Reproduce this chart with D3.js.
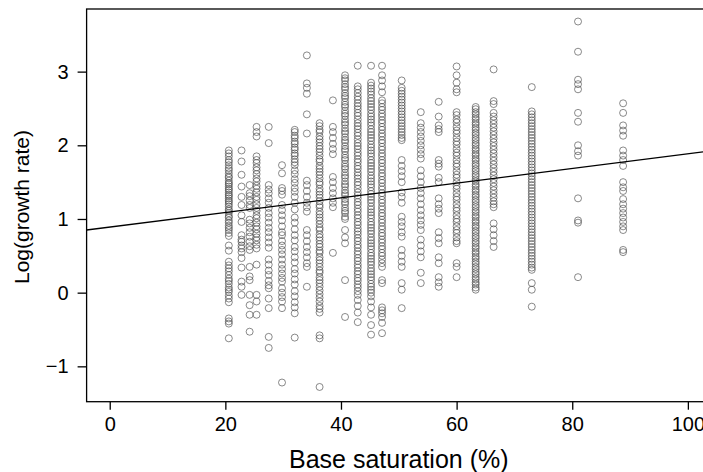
<!DOCTYPE html>
<html>
<head>
<meta charset="utf-8">
<script src="https://cdn.jsdelivr.net/npm/d3@7/dist/d3.min.js"></script>
<style>
  html, body { margin: 0; padding: 0; background: #fff; }
  svg { display: block; }
  text { font-family: "Liberation Sans", Arial, Helvetica, sans-serif; fill: #000; }
</style>
</head>
<body>
<svg id="chart" width="703" height="472"></svg>
<script>
// ---- data ----
const xTicks = [0, 20, 40, 60, 80, 100];
const yTicks = [-1, 0, 1, 2, 3];
const xLabel = "Base saturation (%)";
const yLabel = "Log(growth rate)";
const fitIntercept = 0.89;
const fitSlope = 0.00995;

// base saturation value of each column of points
const columnX = [20.6, 22.8, 24.2, 25.4, 27.5, 29.8, 32.0, 34.1, 36.3, 38.6, 40.7, 42.9,
                 45.2, 47.1, 50.5, 53.8, 56.9, 60.0, 63.3, 66.4, 73.0, 81.0, 88.8];

// log(growth rate) values in each column
const col01 = [1.93,1.89,1.85,1.80,1.77,1.73,1.69,1.66,1.62,1.58,1.56,1.52,1.49,1.47,1.44,1.41,1.39,1.36,1.33,1.31,1.28,1.25,1.23,1.20,1.17,1.13,1.11,1.08,1.04,1.02,0.98,0.95,0.91,0.88,0.85,0.81,0.77,0.64,0.57,0.42,0.37,0.33,0.29,0.24,0.19,0.16,0.12,0.07,0.04,0.01,-0.04,-0.08,-0.13,-0.35,-0.39,-0.42,-0.62];
const col02 = [1.93,1.78,1.60,1.44,1.30,1.19,1.05,0.96,0.78,0.72,0.69,0.64,0.60,0.55,0.47,0.34,0.15,0.08,-0.03];
const col03 = [1.46,1.35,1.31,1.25,1.19,1.15,0.99,0.94,0.88,0.82,0.76,0.69,0.63,0.58,0.35,0.22,0.17,-0.03,-0.17,-0.30,-0.53];
const col04 = [2.25,2.18,2.12,1.85,1.80,1.76,1.70,1.66,1.61,1.55,1.51,1.45,1.41,1.36,1.30,1.26,1.20,1.15,1.11,1.05,1.01,0.95,0.90,0.86,0.80,0.75,0.71,0.65,0.60,0.38,-0.03,-0.12,-0.30];
const col05 = [2.25,2.03,1.46,1.40,1.35,1.28,1.22,1.15,1.08,1.02,0.95,0.88,0.82,0.75,0.68,0.61,0.45,0.38,0.30,0.24,0.16,0.10,0.06,-0.08,-0.21,-0.60,-0.75];
const col06 = [1.73,1.62,1.42,1.38,1.33,1.19,1.12,1.05,0.98,0.90,0.82,0.78,0.70,0.64,0.58,0.52,0.45,0.38,0.32,0.26,0.20,0.15,0.06,0.00,-0.06,-0.12,-0.21,-1.22];
const col07 = [2.21,2.18,2.13,2.10,2.05,2.02,1.97,1.94,1.89,1.86,1.81,1.77,1.73,1.66,1.61,1.54,1.49,1.42,1.37,1.30,1.22,1.13,1.02,0.95,0.86,0.78,0.71,0.62,0.56,0.48,0.41,0.32,0.26,0.18,0.11,0.02,-0.05,-0.13,-0.20,-0.28,-0.61];
const col08 = [3.22,2.84,2.78,2.70,2.42,2.16,1.52,1.46,1.38,1.30,1.22,1.16,1.10,0.85,0.78,0.70,0.62,0.55,0.48,0.40,0.35,0.08];
const col09 = [2.30,2.26,2.21,2.18,2.12,2.08,2.04,1.99,1.95,1.91,1.86,1.81,1.78,1.72,1.68,1.64,1.60,1.55,1.50,1.47,1.41,1.37,1.33,1.29,1.24,1.19,1.16,1.10,1.06,1.02,0.98,0.93,0.88,0.85,0.79,0.75,0.71,0.66,0.62,0.57,0.54,0.48,0.44,0.40,0.35,0.30,0.27,0.21,0.17,0.13,0.08,0.03,-0.02,-0.07,-0.12,-0.18,-0.22,-0.27,-0.58,-0.62,-1.28];
const col10 = [2.61,2.25,2.18,2.10,2.02,1.95,1.88,1.57,1.50,1.42,1.35,1.28,1.22,1.16,0.54];
const col11 = [2.95,2.91,2.88,2.83,2.79,2.76,2.71,2.67,2.64,2.59,2.55,2.52,2.47,2.43,2.40,2.35,2.31,2.28,2.23,2.19,2.16,2.11,2.07,2.04,1.99,1.95,1.92,1.87,1.83,1.80,1.75,1.71,1.68,1.63,1.59,1.56,1.51,1.47,1.44,1.39,1.35,1.32,1.27,1.23,1.20,1.15,1.11,1.08,1.03,1.00,0.85,0.75,0.67,0.17,-0.33];
const col12 = [3.08,2.80,2.76,2.71,2.66,2.62,2.57,2.53,2.49,2.44,2.40,2.35,2.30,2.26,2.22,2.17,2.13,2.08,2.03,1.99,1.95,1.90,1.86,1.81,1.77,1.72,1.68,1.63,1.59,1.55,1.50,1.46,1.41,1.36,1.32,1.28,1.23,1.19,1.14,1.10,1.05,1.01,0.96,0.92,0.87,0.83,0.79,0.74,0.70,0.65,0.61,0.56,0.52,0.47,0.43,0.38,0.34,0.29,0.25,0.20,0.16,0.11,0.07,0.02,-0.03,-0.10,-0.18,-0.27,-0.40];
const col13 = [3.08,2.85,2.81,2.77,2.73,2.69,2.64,2.60,2.56,2.52,2.48,2.43,2.39,2.35,2.31,2.27,2.22,2.18,2.14,2.10,2.06,2.01,1.97,1.93,1.89,1.85,1.80,1.76,1.72,1.68,1.64,1.59,1.55,1.51,1.47,1.43,1.38,1.34,1.30,1.26,1.22,1.17,1.13,1.09,1.05,1.01,0.96,0.92,0.88,0.84,0.80,0.75,0.71,0.67,0.63,0.59,0.54,0.50,0.46,0.42,0.38,0.33,0.29,0.25,0.21,0.17,0.12,0.08,0.04,0.00,-0.05,-0.12,-0.20,-0.30,-0.44,-0.57];
const col14 = [3.08,2.95,2.88,2.80,2.72,2.61,2.57,2.52,2.48,2.43,2.39,2.34,2.30,2.25,2.21,2.16,2.12,2.07,2.03,1.98,1.94,1.89,1.85,1.80,1.76,1.71,1.67,1.62,1.58,1.53,1.49,1.44,1.40,1.35,1.31,1.26,1.22,1.17,1.13,1.08,1.04,0.99,0.95,0.90,0.86,0.81,0.77,0.72,0.68,0.63,0.59,0.54,0.50,0.45,0.40,0.35,0.17,0.13,-0.20,-0.24,-0.28,-0.33,-0.41,-0.55];
const col15 = [2.88,2.78,2.74,2.70,2.66,2.62,2.58,2.54,2.50,2.46,2.42,2.38,2.34,2.30,2.26,2.22,2.18,2.14,2.10,2.07,1.80,1.72,1.65,1.58,1.50,1.36,1.30,1.22,1.03,0.96,0.90,0.82,0.76,0.58,0.50,0.42,0.35,0.13,0.04,-0.21];
const col16 = [2.45,2.30,2.24,2.18,2.12,2.06,2.00,1.94,1.88,1.82,1.66,1.58,1.50,1.42,1.35,1.28,1.20,1.12,1.05,0.98,0.92,0.85,0.72,0.64,0.56,0.48,0.27,0.13];
const col17 = [2.59,2.39,2.27,2.22,2.18,1.80,1.75,1.71,1.56,1.50,1.28,1.20,1.14,1.08,0.82,0.74,0.67,0.48,0.40,0.21,0.14,0.08];
const col18 = [3.07,2.95,2.85,2.76,2.72,2.45,2.41,2.35,2.31,2.25,2.20,2.16,2.10,2.05,2.01,1.95,1.90,1.86,1.80,1.75,1.71,1.65,1.60,1.56,1.50,1.45,1.41,1.35,1.30,1.26,1.20,1.15,1.11,1.05,1.00,0.96,0.90,0.85,0.81,0.75,0.70,0.67,0.40,0.35,0.21];
const col19 = [2.52,2.49,2.45,2.42,2.38,2.35,2.31,2.28,2.24,2.21,2.17,2.14,2.10,2.07,2.03,2.00,1.96,1.93,1.89,1.86,1.82,1.79,1.75,1.72,1.68,1.65,1.61,1.58,1.54,1.51,1.47,1.44,1.40,1.37,1.33,1.30,1.26,1.23,1.19,1.16,1.12,1.09,1.05,1.02,0.98,0.95,0.91,0.88,0.84,0.81,0.77,0.74,0.70,0.67,0.63,0.60,0.56,0.53,0.49,0.46,0.42,0.39,0.35,0.32,0.28,0.25,0.21,0.18,0.14,0.11,0.07,0.04];
const col20 = [3.03,2.60,2.56,2.44,2.39,2.34,2.29,2.24,2.19,2.14,2.09,2.04,1.99,1.94,1.89,1.84,1.79,1.74,1.69,1.64,1.59,1.54,1.49,1.44,1.39,1.34,1.29,1.24,1.20,1.16,0.94,0.86,0.78,0.70,0.62];
const col21 = [2.79,2.46,2.42,2.38,2.34,2.30,2.26,2.22,2.18,2.14,2.10,2.06,2.02,1.98,1.94,1.90,1.86,1.82,1.78,1.74,1.70,1.66,1.62,1.58,1.54,1.50,1.46,1.42,1.38,1.34,1.30,1.26,1.22,1.18,1.14,1.10,1.06,1.02,0.98,0.94,0.90,0.86,0.82,0.78,0.74,0.70,0.66,0.62,0.58,0.54,0.50,0.46,0.42,0.38,0.34,0.31,0.13,0.04,-0.19];
const col22 = [3.68,3.27,2.89,2.83,2.76,2.44,2.32,2.00,1.92,1.86,1.28,0.98,0.95,0.21];
const col23 = [2.57,2.44,2.27,2.20,2.13,1.93,1.86,1.80,1.72,1.50,1.43,1.38,1.27,1.20,1.14,1.08,1.02,0.96,0.90,0.85,0.58,0.55];

const columnY = [col01, col02, col03, col04, col05, col06, col07, col08, col09, col10, col11, col12,
                 col13, col14, col15, col16, col17, col18, col19, col20, col21, col22, col23];

// ---- drawing ----
const svg = d3.select("#chart");
const plot = { left: 86.6, right: 711, top: 9, bottom: 401.7 };

const x = d3.scaleLinear().domain([-4, 104]).range([plot.left, plot.right]);
const y = d3.scaleLinear().domain([-1.48, 3.85]).range([plot.bottom, plot.top]);

const points = [];
columnX.forEach((cx, i) => columnY[i].forEach(v => points.push({ x: cx, y: v })));

svg.append("defs").append("clipPath").attr("id", "clip")
  .append("rect").attr("x", plot.left).attr("y", plot.top)
  .attr("width", plot.right - plot.left).attr("height", plot.bottom - plot.top);

const g = svg.append("g").attr("clip-path", "url(#clip)");

g.selectAll("circle").data(points).enter().append("circle")
  .attr("cx", d => x(d.x))
  .attr("cy", d => y(d.y))
  .attr("r", 3.5)
  .attr("fill", "none")
  .attr("stroke", "#4a4a4a")
  .attr("stroke-width", 0.65);

const xd = x.domain();
g.append("line")
  .attr("x1", x(xd[0])).attr("y1", y(fitIntercept + fitSlope * xd[0]))
  .attr("x2", x(xd[1])).attr("y2", y(fitIntercept + fitSlope * xd[1]))
  .attr("stroke", "#000").attr("stroke-width", 1.3);

// box
svg.append("rect")
  .attr("x", plot.left).attr("y", plot.top)
  .attr("width", plot.right - plot.left).attr("height", plot.bottom - plot.top)
  .attr("fill", "none").attr("stroke", "#000").attr("stroke-width", 1.3);

// axes
const xAxis = svg.append("g").attr("transform", `translate(0,${plot.bottom})`)
  .call(d3.axisBottom(x).tickValues(xTicks).tickSize(8).tickPadding(7).tickFormat(d3.format("d")));
const yAxis = svg.append("g").attr("transform", `translate(${plot.left},0)`)
  .call(d3.axisLeft(y).tickValues(yTicks).tickSize(9).tickPadding(9).tickFormat(d3.format("d")));

[xAxis, yAxis].forEach(a => {
  a.select(".domain").remove();
  a.selectAll(".tick line").attr("stroke", "#000").attr("stroke-width", 1.3);
  a.selectAll(".tick text").style("font-size", "20px")
    .style("font-family", '"Liberation Sans", Arial, sans-serif').attr("fill", "#000");
});

svg.append("text")
  .attr("x", (plot.left + plot.right) / 2).attr("y", 468)
  .attr("text-anchor", "middle")
  .style("font-size", "25px")
  .text(xLabel);

svg.append("text")
  .attr("transform", `translate(29,207) rotate(-90)`)
  .attr("text-anchor", "middle")
  .style("font-size", "21px")
  .text(yLabel);
</script>
</body>
</html>
